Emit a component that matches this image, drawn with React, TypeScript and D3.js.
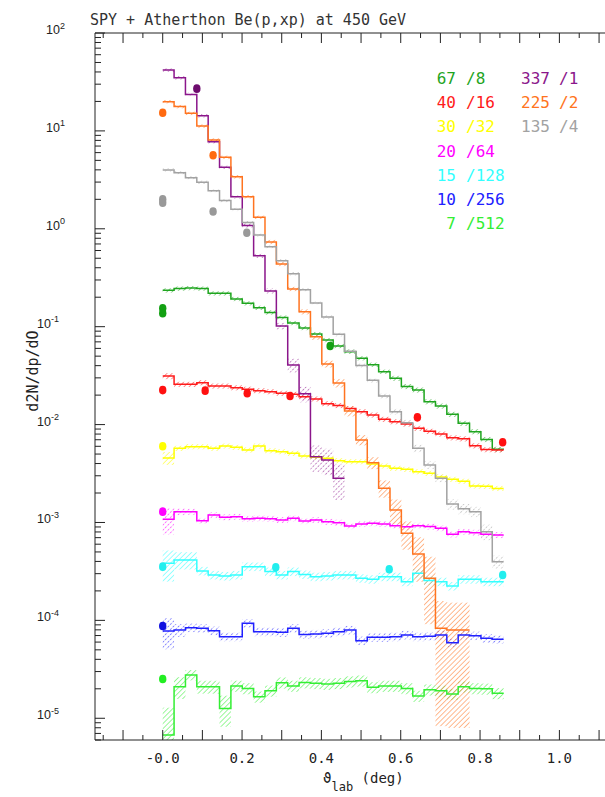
import React from 'react';
import * as d3 from 'd3';

// Angular bins of 0.5 mrad, expressed in degrees
const BIN_DEG = (0.5e-3 * 180) / Math.PI;

// Histogram contents per beam momentum (already scaled by the legend factor)
const h67 = [0.235, 0.245, 0.248, 0.245, 0.219, 0.219, 0.192, 0.1734, 0.156, 0.14, 0.124, 0.109, 0.097, 0.0841, 0.0731, 0.0635, 0.0555, 0.0476, 0.0409, 0.0347, 0.0297, 0.0245, 0.02255, 0.01713, 0.01549, 0.01274, 0.0103, 0.00847, 0.00705, 0.0056];
const h40 = [0.0313, 0.0258, 0.0258, 0.0268, 0.0248, 0.0248, 0.0238, 0.023, 0.0222, 0.0217, 0.0209, 0.0204, 0.0193, 0.01828, 0.01637, 0.01568, 0.0146, 0.01355, 0.01253, 0.01132, 0.01071, 0.01014, 0.00917, 0.00854, 0.00801, 0.00733, 0.00716, 0.00607, 0.00555, 0.0055];
const h30 = [0.00456, 0.00573, 0.00595, 0.00595, 0.00573, 0.00604, 0.00586, 0.00551, 0.00604, 0.00541, 0.00529, 0.00509, 0.00478, 0.00463, 0.00453, 0.00428, 0.00418, 0.00418, 0.00396, 0.00378, 0.00358, 0.00349, 0.0033, 0.00318, 0.00292, 0.00276, 0.00264, 0.00236, 0.00234, 0.00223];
const h20 = [0.00108, 0.00129, 0.00129, 0.00104, 0.00119, 0.00113, 0.001146, 0.001094, 0.001104, 0.001094, 0.001062, 0.001104, 0.001035, 0.001062, 0.001018, 0.000995, 0.00092, 0.000966, 0.000982, 0.000966, 0.000927, 0.000906, 0.000927, 0.00091, 0.000873, 0.000757, 0.000805, 0.000787, 0.00076, 0.000745];
const h15 = [0.000383, 0.000414, 0.000414, 0.00032, 0.000291, 0.000284, 0.000291, 0.000354, 0.000354, 0.000315, 0.000291, 0.000315, 0.000294, 0.000279, 0.000284, 0.000291, 0.000291, 0.000269, 0.000263, 0.000279, 0.000279, 0.000248, 0.000303, 0.000256, 0.000248, 0.000224, 0.000263, 0.000263, 0.000248, 0.000248];
const h10 = [7.8e-5, 7.98e-5, 8.43e-5, 8.31e-5, 7.85e-5, 6.81e-5, 6.81e-5, 9.33e-5, 7.67e-5, 7.67e-5, 7.55e-5, 8.31e-5, 7.18e-5, 7.26e-5, 7.38e-5, 7.67e-5, 7.98e-5, 6.21e-5, 6.72e-5, 6.72e-5, 6.81e-5, 7.1e-5, 6.81e-5, 6.87e-5, 7.1e-5, 5.92e-5, 7.1e-5, 6.97e-5, 6.56e-5, 6.41e-5];
const h7 = [6.75e-6, 2.1e-5, 2.77e-5, 2.1e-5, 2.1e-5, 1.26e-5, 2.14e-5, 2.02e-5, 1.66e-5, 1.91e-5, 2.31e-5, 2.14e-5, 2.32e-5, 2.28e-5, 2.24e-5, 2.28e-5, 2.37e-5, 2.42e-5, 2.07e-5, 2.14e-5, 2.14e-5, 2.02e-5, 1.69e-5, 1.96e-5, 1.91e-5, 1.77e-5, 2.1e-5, 2.02e-5, 2.0e-5, 1.8e-5];
const h337 = [41.9, 34.9, 23.6, 14.3, 7.75, 4.24, 2.12, 1.08, 0.531, 0.232, 0.1016, 0.0406, 0.0206, 0.0047, 0.00435, 0.00283];
const h225 = [19.9, 17.7, 15.1, 11.2, 8.07, 5.37, 3.4, 2.13, 1.31, 0.733, 0.437, 0.243, 0.142, 0.079, 0.0416, 0.0266, 0.01377, 0.00697, 0.00408, 0.00224, 0.00134, 0.000776, 0.000477, 0.000269, 8.3e-5, 7.98e-5, 7.98e-5];
const h135 = [3.99, 3.74, 3.33, 2.99, 2.45, 1.94, 1.58, 1.16, 0.865, 0.656, 0.472, 0.348, 0.239, 0.1745, 0.1256, 0.0838, 0.056, 0.0402, 0.0283, 0.0196, 0.01355, 0.01045, 0.00573, 0.00387, 0.00283, 0.00154, 0.00138, 0.00129, 0.000805, 0.000398];

// Relative statistical errors per bin
const e67 = [0.05, 0.05, 0.05, 0.05, 0.05, 0.05, 0.05, 0.05, 0.05, 0.05, 0.05, 0.05, 0.05, 0.05, 0.05, 0.05, 0.05, 0.05, 0.05, 0.05, 0.06, 0.06, 0.06, 0.06, 0.06, 0.06, 0.06, 0.06, 0.06, 0.06];
const e40 = [0.07, 0.06, 0.06, 0.06, 0.06, 0.06, 0.06, 0.06, 0.06, 0.06, 0.06, 0.06, 0.06, 0.06, 0.06, 0.06, 0.06, 0.06, 0.06, 0.06, 0.06, 0.06, 0.06, 0.06, 0.06, 0.06, 0.06, 0.06, 0.06, 0.06];
const e30 = [0.15, 0.06, 0.06, 0.06, 0.06, 0.06, 0.06, 0.06, 0.06, 0.06, 0.06, 0.06, 0.06, 0.06, 0.06, 0.06, 0.06, 0.06, 0.06, 0.06, 0.06, 0.06, 0.06, 0.06, 0.06, 0.06, 0.06, 0.06, 0.06, 0.06];
const e20 = [0.3, 0.08, 0.07, 0.07, 0.07, 0.07, 0.07, 0.07, 0.07, 0.07, 0.07, 0.07, 0.07, 0.07, 0.07, 0.07, 0.07, 0.07, 0.07, 0.07, 0.07, 0.07, 0.07, 0.07, 0.07, 0.07, 0.07, 0.07, 0.07, 0.07];
const e15 = [0.35, 0.2, 0.2, 0.1, 0.1, 0.1, 0.1, 0.1, 0.1, 0.1, 0.1, 0.1, 0.1, 0.1, 0.1, 0.1, 0.1, 0.1, 0.1, 0.1, 0.1, 0.1, 0.1, 0.1, 0.1, 0.1, 0.1, 0.1, 0.1, 0.1];
const e10 = [0.35, 0.15, 0.1, 0.1, 0.1, 0.1, 0.1, 0.1, 0.1, 0.1, 0.1, 0.1, 0.1, 0.1, 0.1, 0.1, 0.1, 0.1, 0.1, 0.1, 0.1, 0.1, 0.1, 0.1, 0.1, 0.1, 0.1, 0.1, 0.1, 0.1];
const e7 = [0.9, 0.25, 0.12, 0.15, 0.15, 0.35, 0.13, 0.13, 0.13, 0.13, 0.13, 0.13, 0.13, 0.13, 0.13, 0.13, 0.13, 0.13, 0.13, 0.13, 0.13, 0.13, 0.13, 0.13, 0.13, 0.13, 0.13, 0.13, 0.13, 0.13];
const e337 = [0.04, 0.04, 0.04, 0.04, 0.04, 0.04, 0.04, 0.05, 0.05, 0.06, 0.08, 0.16, 0.18, 0.3, 0.3, 0.4];
const e225 = [0.04, 0.04, 0.04, 0.04, 0.04, 0.04, 0.04, 0.04, 0.04, 0.05, 0.05, 0.05, 0.06, 0.07, 0.08, 0.1, 0.12, 0.12, 0.14, 0.2, 0.28, 0.32, 0.48, 0.66, 0.9, 0.9, 0.9];
const e135 = [0.04, 0.04, 0.04, 0.04, 0.04, 0.04, 0.04, 0.04, 0.04, 0.04, 0.04, 0.04, 0.04, 0.04, 0.04, 0.05, 0.05, 0.05, 0.05, 0.07, 0.07, 0.07, 0.09, 0.09, 0.09, 0.12, 0.12, 0.12, 0.18, 0.15];

// Measured points: angle (deg) and value
const p67x = [0, 0, 0.422];
const p67y = [0.154, 0.137, 0.0635];
const p40x = [0, 0.107, 0.213, 0.321, 0.642, 0.857];
const p40y = [0.0225, 0.0222, 0.0209, 0.0196, 0.01186, 0.00659];
const p30x = [0];
const p30y = [0.006];
const p20x = [0];
const p20y = [0.00129];
const p15x = [0, 0.285, 0.571, 0.857];
const p15y = [0.000354, 0.000348, 0.000333, 0.000291];
const p10x = [0];
const p10y = [8.77e-5];
const p7x = [0];
const p7y = [2.52e-5];
const p337x = [0.086];
const p337y = [27];
const p225x = [0, 0.127];
const p225y = [15.3, 5.63];
const p135x = [0, 0, 0.127, 0.212];
const p135y = [2.0, 1.85, 1.5, 0.912];

// Legend entries: momentum and applied scale factor
const momenta = ['67', '40', '30', '20', '15', '10', '7', '337', '225', '135'];
const factors = ['/8', '/16', '/32', '/64', '/128', '/256', '/512', '/1', '/2', '/4'];

const xTickValues = [0, 0.2, 0.4, 0.6, 0.8, 1.0];
const xTickLabels = ['-0.0', '0.2', '0.4', '0.6', '0.8', '1.0'];
const decades = [-5, -4, -3, -2, -1, 0, 1, 2];

// Styling
const lineColors = ['#1fa51f', '#ff1a1a', '#ffff00', '#ff00ff', '#33ffff', '#2020ff', '#33ee33', '#8b168b', '#ff7420', '#a2a2a2'];
const dotColors = ['#12a012', '#ff1010', '#ffff00', '#ff00ff', '#22eeee', '#1010e0', '#22ee22', '#6e0c6e', '#ff6a10', '#999999'];
const hatchDotted = [false, false, false, true, false, true, false, true, false, true];

const spectra = [
  { v: h67, e: e67, px: p67x, py: p67y },
  { v: h40, e: e40, px: p40x, py: p40y },
  { v: h30, e: e30, px: p30x, py: p30y },
  { v: h20, e: e20, px: p20x, py: p20y },
  { v: h15, e: e15, px: p15x, py: p15y },
  { v: h10, e: e10, px: p10x, py: p10y },
  { v: h7, e: e7, px: p7x, py: p7y },
  { v: h337, e: e337, px: p337x, py: p337y },
  { v: h225, e: e225, px: p225x, py: p225y },
  { v: h135, e: e135, px: p135x, py: p135y },
];

const W = 605;
const H = 797;
const LEFT = 95;
const TOP = 33;
const BOTTOM = 740;
const RIGHT = 607;

const yMin = Math.pow(10, -5.222);

export default function App() {
  const x = d3.scaleLinear().domain([-0.1707, 1.12]).range([LEFT, RIGHT]);
  const y = d3.scaleLog().domain([yMin, 100]).range([BOTTOM, TOP]);

  const step = d3
    .line<[number, number]>()
    .x((d) => x(d[0]))
    .y((d) => y(d[1]))
    .curve(d3.curveStepAfter);

  const xMajor = d3.range(-1, 12).map((k) => k / 10);
  const xMinor = d3.range(-1, 11).map((k) => k / 10 + 0.05).concat([-0.15]);

  const yMajor = decades.map((d) => Math.pow(10, d));
  const yMinor: number[] = [];
  for (let d = -6; d < 2; d++) {
    for (let m = 2; m <= 9; m++) {
      const v = m * Math.pow(10, d);
      if (v >= yMin * 0.999 && v <= 100) yMinor.push(v);
    }
  }

  const mono = '"DejaVu Sans Mono", monospace';
  const axisColor = '#222';

  return (
    <svg width={W} height={H} style={{ position: 'absolute', left: 0, top: 0, background: '#fff' }}>
      <defs>
        <clipPath id="plot-area">
          <rect x={LEFT} y={TOP} width={RIGHT - LEFT} height={BOTTOM - TOP} />
        </clipPath>
        {spectra.map((_, k) => (
          <pattern
            key={k}
            id={`hatch-${k}`}
            width={3.6}
            height={3.6}
            patternUnits="userSpaceOnUse"
            patternTransform="rotate(45)"
          >
            <line
              x1={0}
              y1={0}
              x2={0}
              y2={3.6}
              stroke={lineColors[k]}
              strokeWidth={1}
              strokeDasharray={hatchDotted[k] ? '1.2 1.2' : undefined}
            />
          </pattern>
        ))}
      </defs>

      {/* title */}
      <text x={90} y={25} fontFamily={mono} fontSize={15} fill="#333">
        SPY + Atherthon Be(p,xp) at 450 GeV
      </text>

      {/* error bands */}
      <g clipPath="url(#plot-area)">
        {spectra.map((s, k) => (
          <g key={k} fill={`url(#hatch-${k})`}>
            {s.v.map((v, i) => {
              const hi = v * (1 + s.e[i]);
              const lo = Math.max(v * (1 - s.e[i]), yMin * 0.5);
              const x0 = x(i * BIN_DEG);
              const x1 = x((i + 1) * BIN_DEG);
              return <rect key={i} x={x0} y={y(hi)} width={x1 - x0} height={y(lo) - y(hi)} />;
            })}
          </g>
        ))}
      </g>

      {/* histograms */}
      <g clipPath="url(#plot-area)" fill="none">
        {spectra.map((s, k) => {
          const pts: [number, number][] = s.v.map((v, i) => [i * BIN_DEG, v] as [number, number]);
          pts.push([s.v.length * BIN_DEG, s.v[s.v.length - 1]]);
          return <path key={k} d={step(pts) || ''} stroke={lineColors[k]} strokeWidth={1.5} />;
        })}
      </g>

      {/* measured points */}
      <g>
        {spectra.map((s, k) =>
          s.px.map((px, i) => (
            <ellipse key={`${k}-${i}`} cx={x(px)} cy={y(s.py[i])} rx={3.7} ry={4.3} fill={dotColors[k]} />
          ))
        )}
      </g>

      {/* legend */}
      <g fontFamily={mono} fontSize={16}>
        {momenta.map((m, k) => {
          const col = k < 7 ? 0 : 1;
          const row = k < 7 ? k : k - 7;
          const by = 84 + row * 24.2;
          const numEnd = col === 0 ? 456 : 550;
          const facStart = col === 0 ? 466 : 559;
          return (
            <g key={k} fill={lineColors[k]}>
              <text x={numEnd} y={by} textAnchor="end">{m}</text>
              <text x={facStart} y={by}>{factors[k]}</text>
            </g>
          );
        })}
      </g>

      {/* frame */}
      <g stroke={axisColor} strokeWidth={1} fill="none">
        <line x1={LEFT} y1={TOP} x2={LEFT} y2={BOTTOM} />
        <line x1={LEFT} y1={BOTTOM} x2={W} y2={BOTTOM} />
        <line x1={LEFT} y1={TOP} x2={W} y2={TOP} />
        {xMajor.map((t) => (
          <g key={`xm${t}`}>
            <line x1={x(t)} x2={x(t)} y1={BOTTOM} y2={BOTTOM - 10} />
            <line x1={x(t)} x2={x(t)} y1={TOP} y2={TOP + 10} />
          </g>
        ))}
        {xMinor.map((t) => (
          <g key={`xn${t}`}>
            <line x1={x(t)} x2={x(t)} y1={BOTTOM} y2={BOTTOM - 5} />
            <line x1={x(t)} x2={x(t)} y1={TOP} y2={TOP + 5} />
          </g>
        ))}
        {yMajor.map((t) => (
          <line key={`ym${t}`} x1={LEFT} x2={LEFT + 10} y1={y(t)} y2={y(t)} />
        ))}
        {yMinor.map((t) => (
          <line key={`yn${t}`} x1={LEFT} x2={LEFT + 6} y1={y(t)} y2={y(t)} />
        ))}
      </g>

      {/* x tick labels */}
      <g fontFamily={mono} fontSize={14} fill="#222" textAnchor="middle">
        {xTickValues.map((t, i) => (
          <text key={t} x={x(t)} y={763}>{xTickLabels[i]}</text>
        ))}
      </g>

      {/* y tick labels */}
      <g fontFamily='"Liberation Sans", Arial, sans-serif' fill="#222" textAnchor="end">
        {decades.map((d) => (
          <text key={d} x={d < 0 ? 59 : 65} y={y(Math.pow(10, d)) + 1} fontSize={12.5}>
            10
            <tspan fontSize={9} dy={-5.5}>{String(d)}</tspan>
          </text>
        ))}
      </g>

      {/* axis titles */}
      <text x={323} y={783} fontFamily={mono} fontSize={14} fill="#222">
        ϑ
        <tspan fontSize={12} dy={8}>lab</tspan>
        <tspan dy={-8}> (deg)</tspan>
      </text>
      <text
        transform="translate(38,371) rotate(-90)"
        textAnchor="middle"
        fontFamily={mono}
        fontSize={15}
        fill="#222"
      >
        d2N/dp/dO
      </text>
    </svg>
  );
}
